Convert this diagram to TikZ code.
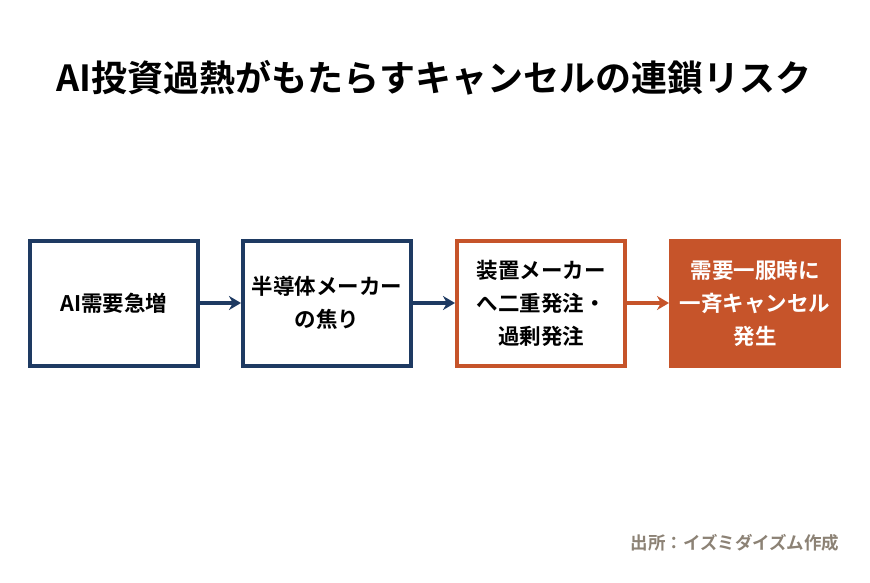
\documentclass[tikz,border=0pt]{standalone}
\usepackage{fontspec}
\newfontfamily\jp{Noto Sans CJK JP}[BoldFont={Noto Sans CJK JP Bold}]
\usetikzlibrary{arrows.meta}
\definecolor{navy}{HTML}{1E3A62}
\definecolor{rust}{HTML}{C6542A}
\definecolor{srcgray}{HTML}{8C8275}
\begin{document}
\begin{tikzpicture}[x=1pt,y=-1pt,
  box/.style={draw=#1,line width=4pt,minimum width=168pt,minimum height=125pt,align=center,font=\jp\bfseries\fontsize{21.5}{33}\selectfont,inner sep=0pt},
  conn/.style={draw=#1,line width=3.5pt,-{Stealth[length=12pt,width=14pt]}}]
\useasboundingbox[fill=white] (0,0) rectangle (870,583);
\node[font=\jp\bfseries\fontsize{36}{40}\selectfont] (title) at (434,78) {AI投資過熱がもたらすキャンセルの連鎖リスク};
\node[box=navy] (b1) at (114,303) {AI需要急増};
\node[box=navy] (b2) at (327,303) {半導体メーカー\\の焦り};
\node[box=rust] (b3) at (541,303) {装置メーカー\\へ二重発注・\\過剰発注};
\node[box=rust,fill=rust,text=white] (b4) at (755,303) {需要一服時に\\一斉キャンセル\\発生};
\draw[conn=navy] (b1) -- (b2);
\draw[conn=navy] (b2) -- (b3);
\draw[conn=rust] (b3) -- (b4);
\node[font=\jp\bfseries\fontsize{17.5}{20}\selectfont,text=srcgray,anchor=east] (src) at (843,543) {出所：イズミダイズム作成};
\end{tikzpicture}
\end{document}
